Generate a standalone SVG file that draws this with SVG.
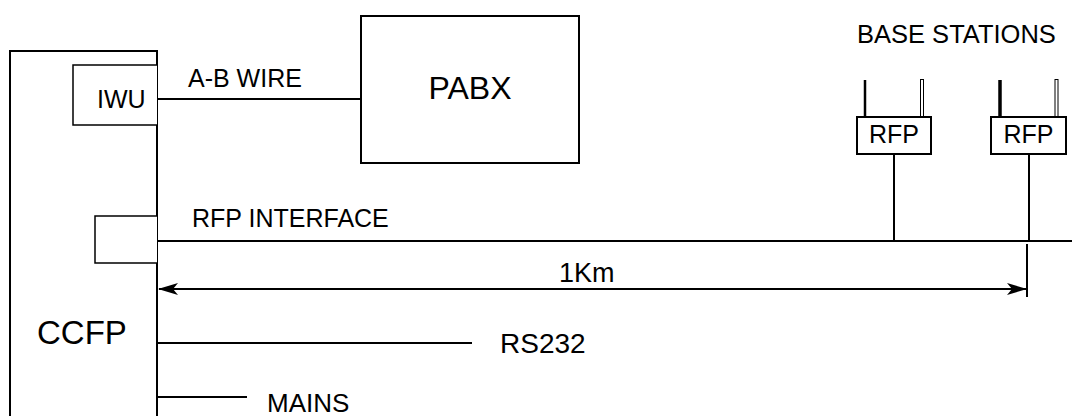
<svg xmlns="http://www.w3.org/2000/svg" width="1072" height="416" viewBox="0 0 1072 416">
<defs>
<style>
.ln{stroke:#000;stroke-width:2;fill:none}
.thin{stroke:#000;stroke-width:1.5;fill:#fff}
.t{font-family:"Liberation Sans",Arial,sans-serif;font-size:25px;fill:#000}
</style>
<marker id="ah" viewBox="0 0 20 12" refX="19" refY="6" markerWidth="20" markerHeight="12" markerUnits="userSpaceOnUse" orient="auto-start-reverse">
<path d="M0,0 L20,6 L0,12 L5,6 Z" fill="#000"/>
</marker>
</defs>
<rect width="1072" height="416" fill="#fff"/>
<g id="ccfp">
<path class="ln" d="M10,420 V51 H157 V420"/>
<text class="t" x="37" y="344" style="font-size:33px">CCFP</text>
</g>
<g id="iwu">
<path class="thin" d="M157,65 H73 V125 H157"/>
<text class="t" x="97" y="108">IWU</text>
</g>
<g id="rfp-if">
<path class="thin" d="M157,216 H95 V263 H157"/>
</g>
<g id="pabx">
<rect class="ln" x="361" y="16" width="218" height="147"/>
<text class="t" x="470" y="99" text-anchor="middle" style="font-size:32px">PABX</text>
</g>
<g id="rfp1">
<line x1="865" y1="80" x2="865" y2="117" stroke="#000" stroke-width="2.5"/>
<rect x="920.5" y="79.5" width="3" height="37" fill="#fff" stroke="#000" stroke-width="1"/>
<rect x="857" y="117" width="74" height="37" fill="#fff" stroke="#000" stroke-width="2"/>
<text class="t" x="894" y="143" text-anchor="middle">RFP</text>
</g>
<g id="rfp2">
<line x1="1000" y1="80" x2="1000" y2="117" stroke="#000" stroke-width="3.5"/>
<rect x="1055" y="79.5" width="3" height="37" fill="#fff" stroke="#000" stroke-width="1"/>
<rect x="991" y="117" width="75" height="37" fill="#fff" stroke="#000" stroke-width="2"/>
<text class="t" x="1028.5" y="143" text-anchor="middle">RFP</text>
</g>
<g id="connectors">
<line class="ln" x1="157" y1="99" x2="361" y2="99"/>
<line class="ln" x1="157" y1="241" x2="1072" y2="241"/>
<line class="ln" x1="894" y1="154" x2="894" y2="241"/>
<line class="ln" x1="1029" y1="154" x2="1029" y2="241"/>
<line class="ln" x1="1027" y1="244" x2="1027" y2="297"/>
<line class="ln" x1="159" y1="289" x2="1026" y2="289" marker-start="url(#ah)" marker-end="url(#ah)"/>
<line class="ln" x1="157" y1="343" x2="472" y2="343"/>
<line class="ln" x1="157" y1="397" x2="247" y2="397"/>
</g>
<g id="labels">
<text class="t" x="188" y="87">A-B WIRE</text>
<text class="t" x="192" y="227">RFP INTERFACE</text>
<text class="t" x="559" y="282" style="font-size:27px">1Km</text>
<text class="t" x="500" y="353" style="font-size:28px">RS232</text>
<text class="t" x="267" y="412" style="font-size:26px">MAINS</text>
<text class="t" x="857" y="43" style="font-size:25.5px">BASE STATIONS</text>
</g>
</svg>
